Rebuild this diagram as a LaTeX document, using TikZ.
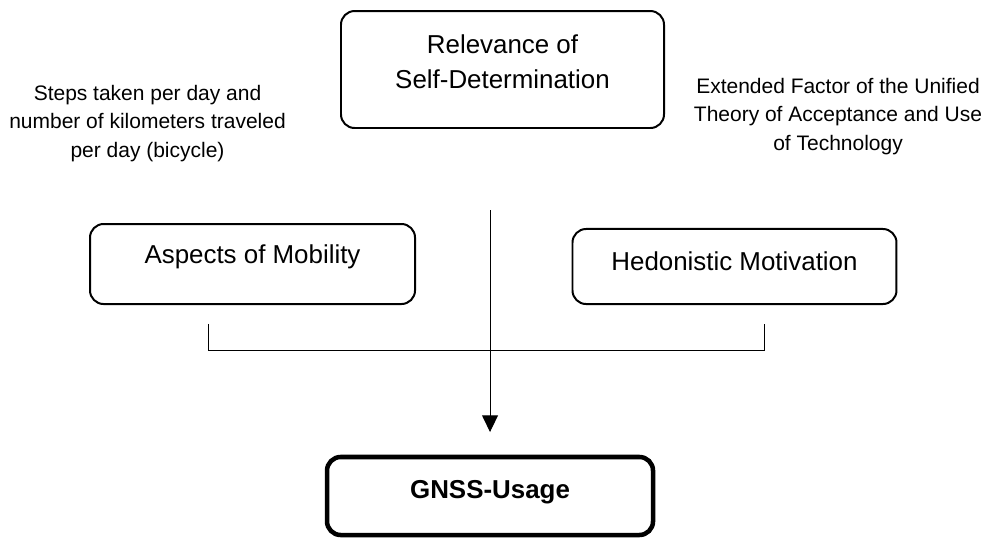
\documentclass[tikz,border=0pt]{standalone}
\usepackage{fontspec}
\setmainfont{Liberation Sans}
\usetikzlibrary{arrows.meta}

\begin{document}
\begin{tikzpicture}[block/.style={rectangle, draw, rounded corners=3.6mm, line width=1.5pt, align=center,
      inner ysep=0pt, font=\fontsize{19.5}{26.6}\selectfont},
      note/.style={align=center, inner sep=0pt, font=\fontsize{15.8}{21.4}\selectfont},
      >={Triangle[length=4.4mm, width=4.2mm]},
      node distance=30mm,]
      \useasboundingbox (0,0) rectangle (264.05mm,-142.08mm);

      \node[block, minimum width=85.46mm, text height=20.50mm, text depth=10.45mm] (rel) at (132.95mm,-18.39mm) {Relevance of\\Self-Determination};
      \node[note, anchor=base] (steps) at (39.03mm,-41.54mm) {Steps taken per day and\\number of kilometers traveled\\per day (bicycle)};
      \node[note, anchor=base] (utaut) at (221.72mm,-39.69mm) {Extended Factor of the Unified\\Theory of Acceptance and Use\\of Technology};

      \node[block, below of=rel, node distance=51.46mm, xshift=-66.14mm, minimum width=85.99mm, text height=10.32mm, text depth=10.85mm] (aspects) {Aspects of Mobility};
      \node[block, right of=aspects, node distance=127.52mm, yshift=-0.66mm, minimum width=85.72mm, text height=10.85mm, text depth=9.0mm] (hedon) {Hedonistic Motivation};
      \node[block, below of=rel, node distance=112.84mm, xshift=-3.30mm, minimum width=86.25mm, text height=11.11mm, text depth=9.53mm, line width=3.4pt, font=\fontsize{19.5}{26.6}\selectfont\bfseries] (gnss) {GNSS-Usage};

      \node[coordinate, above of=gnss, node distance=75.67mm] (linetop) {};
      \node[coordinate, above of=gnss, node distance=16.93mm] (arrend) {};
      \draw[->, line width=0.75pt] (linetop) -- (arrend);

      \node[coordinate, below of=aspects, node distance=15.87mm, xshift=-11.62mm] (brl) {};
      \node[coordinate, below of=hedon, node distance=15.21mm, xshift=8.07mm] (brr) {};
      \draw[line width=0.75pt] (brl) -- ++(0,-6.88mm) -| (brr);

    \end{tikzpicture}
\end{document}
